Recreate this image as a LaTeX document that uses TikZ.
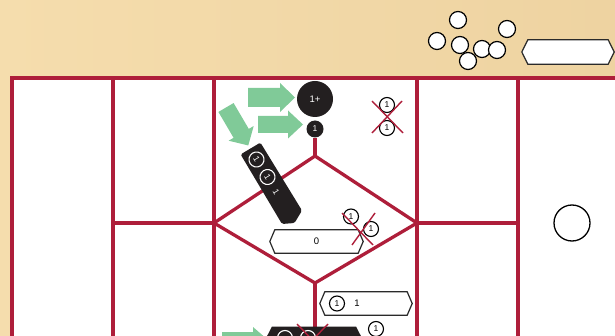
\documentclass[tikz,border=0pt]{standalone}
\usepackage{fontspec}
\setmainfont{Liberation Sans}
\definecolor{beigeL}{HTML}{F5DDAD}
\definecolor{beigeR}{HTML}{EED3A1}
\definecolor{brd}{HTML}{AE1E3A}
\definecolor{grn}{HTML}{80CA98}
\definecolor{blk}{HTML}{231F20}
\definecolor{hexc}{HTML}{2A2A2A}
\newcommand\greenarrow[7]{\fill[grn, shift={(#1,#2)}, rotate=#3] (0,-#5) -- ({#4-#7},-#5) -- ({#4-#7},-#6) -- (#4,0) -- ({#4-#7},#6) -- ({#4-#7},#5) -- (0,#5) -- cycle;}
\newcommand\hexpath[2]{\filldraw[fill=white, draw=hexc, line width=1.2pt] (#1.west) -- ([xshift=#2]#1.north west) -- ([xshift=-#2]#1.north east) -- (#1.east) -- ([xshift=-#2]#1.south east) -- ([xshift=#2]#1.south west) -- cycle;}
\begin{document}
\begin{tikzpicture}[x=1pt,y=-1pt,
  board/.style={draw=brd, line width=3.6pt},
  dia/.style={draw=brd, line width=3.3pt},
  cross/.style={draw=brd, line width=1.4pt},
  tok/.style={circle, draw=black, fill=white, line width=1.2pt, minimum size=17pt, inner sep=0pt},
  num/.style={circle, draw=black, line width=1.1pt, minimum size=15pt, inner sep=0pt, font=\fontsize{8.5}{9}\selectfont},
  wnum/.style={circle, draw=white, text=white, line width=1.1pt, minimum size=15pt, inner sep=0pt, font=\fontsize{8.5}{9}\selectfont},
  hexbox/.style={inner sep=0pt, font=\fontsize{9.5}{10}\selectfont},
  lbl/.style={inner sep=0pt, font=\fontsize{8.5}{9}\selectfont}
]
\useasboundingbox (0,0) rectangle (615,336);
\shade[left color=beigeL, right color=beigeR] (0,0) rectangle (615,336);
\fill[white] (12,78) rectangle (615,340);

% board grid
\draw[board] (12,345) -- (12,78) -- (620,78);
\draw[board] (113,78) -- (113,345);
\draw[board] (214,78) -- (214,345);
\draw[board] (417,78) -- (417,345);
\draw[board] (518,78) -- (518,345);
\draw[board] (113,223) -- (214,223);
\draw[board] (417,223) -- (518,223);

% diamond
\coordinate (dt) at (315,156);
\coordinate (dl) at (214,223);
\coordinate (dr) at (417,223);
\coordinate (db) at (315,283);
\coordinate (dbot) at (315,345);
\draw[dia, line join=miter] (dl) -- (dt) -- (dr) -- (db) -- cycle;

% top circles
\node[circle, fill=blk, text=white, minimum size=36pt, inner sep=0pt, font=\fontsize{9.5}{10}\selectfont] (plus) at (315,99) {1+};
\node[circle, fill=blk, text=white, minimum size=17pt, inner sep=0pt, font=\fontsize{8.5}{9}\selectfont] (one) at (315,129) {1};
\draw[dia] (one) -- (dt);
\draw[dia] (db) -- (dbot);

% green arrows
\greenarrow{248}{97.5}{0}{47}{9.5}{14.5}{15}
\greenarrow{258}{124.5}{0}{45}{8.5}{14}{15}
\greenarrow{226}{107.5}{-59.6}{44}{8.8}{14.5}{14}
\greenarrow{222}{340}{0}{46}{8}{13}{15}

% rotated black box
\fill[blk, rounded corners=1.5pt] (240.6,154.4) -- (260.4,142.6) -- (302,210.5) -- (294.5,223) -- (282,224) -- cycle;
\node[wnum, rotate=-59] (b1) at (256.5,159.5) {1};
\node[wnum, rotate=-59] (b2) at (267.5,177) {1};
\node[lbl, text=white, rotate=-59] (b3) at (276,192) {1};

% crossed tokens top right
\node[num] (x1) at (387,105) {1};
\node[num] (x2) at (387,128) {1};
\draw[cross] (372,101) -- (403,133);
\draw[cross] (402,101) -- (372,133);

% hexagon 0
\node[hexbox, minimum width=93pt, minimum height=23pt] (h0) at (316.5,241.5) {};
\hexpath{h0}{5pt}
\node[hexbox] (h0t) at (h0) {0};
\node[num] (m1) at (351,216.5) {1};
\node[num] (m2) at (371,229) {1};
\draw[cross] (342,213) -- (373,245);
\draw[cross] (375,213) -- (352,245);

% hexagon with 1 1
\node[hexbox, minimum width=92pt, minimum height=23pt] (h1) at (366,303.5) {};
\hexpath{h1}{5pt}
\node[num] (c1) at (337,303.5) {1};
\node[hexbox] (t1) at (357,303.5) {1};

% bottom black shape
\fill[blk] (272,326.5) -- (356,326.5) -- (364,342) -- (264,342) -- cycle;
\node[wnum] (w1) at (285,338) {};
\node[wnum] (w2) at (308,338) {};
\draw[cross] (297,324) -- (328,356);
\draw[cross] (328,324) -- (297,356);
\node[num] (c2) at (376,329) {1};

% right circle
\node[circle, draw=black, line width=1.3pt, minimum size=36pt, inner sep=0pt] (rc) at (572,223) {};

% beige area tokens
\node[tok] (k1) at (437,41) {};
\node[tok] (k2) at (458,20) {};
\node[tok] (k3) at (507,29) {};
\node[tok] (k4) at (460,45) {};
\node[tok] (k5) at (482,49) {};
\node[tok] (k6) at (497,50) {};
\node[tok] (k7) at (468,61) {};

% top-right hexagon
\node[hexbox, minimum width=92pt, minimum height=24pt] (ht) at (568,52) {};
\hexpath{ht}{6pt}
\end{tikzpicture}
\end{document}
